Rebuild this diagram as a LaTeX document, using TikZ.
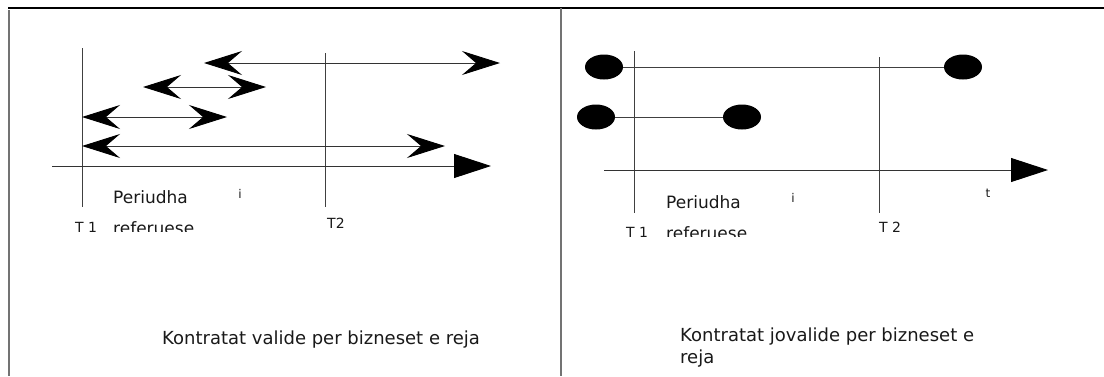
\documentclass[tikz,border=0pt]{standalone}
\usepackage{fontspec}
\setmainfont{DejaVu Sans}
\usetikzlibrary{arrows.meta,shapes.geometric}

\begin{document}
\begin{tikzpicture}[x=1pt,y=-1pt]
        \tikzset{frame/.style={draw=black!55, line width=1.2pt},
                 tline/.style={draw=black!75, line width=0.9pt},
                 axis/.style={draw=black!80, line width=0.9pt,
                    -{Triangle[length=37pt,width=24pt,color=black]}},
                 span/.style={draw=black!80, line width=0.9pt,
                    {Stealth[length=38pt,width=24pt,inset=14pt,color=black]}-{Stealth[length=38pt,width=24pt,inset=14pt,color=black]}},
                 dot/.style={ellipse, fill=black, inner sep=0pt,
                    minimum width=38pt, minimum height=25pt},
                 lbl/.style={anchor=base west, inner sep=0pt,
                    font=\fontsize{17}{20}\selectfont, text=black!90},
                 tick/.style={anchor=base west, inner sep=0pt,
                    font=\fontsize{14}{16}\selectfont, text=black!90},
                 small/.style={anchor=base, inner sep=0pt,
                    font=\fontsize{12}{13}\selectfont, text=black!90},
                 caption/.style={anchor=base west, inner sep=0pt,
                    font=\fontsize{18}{22}\selectfont, text=black!90}}
        \useasboundingbox (0,0) rectangle (1104,376);
        % frame
        \draw[black, line width=2.2pt] (8,8) -- (1104,8);
        \draw[frame] (9,10) -- (9,376);
        \draw[frame] (561,8) -- (561,376);

        % left panel: valid contracts
        \coordinate (aL1) at (52,166);  \coordinate (aL2) at (491,166);
        \coordinate (t1Lt) at (82,48);  \coordinate (t1Lb) at (82,207);
        \coordinate (t2Lt) at (325,53); \coordinate (t2Lb) at (325,207);
        \draw[tline] (t1Lt) -- (t1Lb);
        \draw[tline] (t2Lt) -- (t2Lb);
        \draw[axis] (aL1) -- (aL2);
        \foreach \y/\a/\b [count=\k] in {63/204/500, 87/143/266, 117/82/227, 146/82/445}
        {
            \coordinate (s\k a) at (\a,\y);
            \coordinate (s\k b) at (\b,\y);
            \draw[span] (s\k a) -- (s\k b);
        }
        \begin{scope}
            \clip (10,0) rectangle (560,231);
            \node[lbl] (perL) at (113,203) {Periudha};
            \node[lbl] (refL) at (113,234) {referuese};
            \node[tick] (T1L) at (75,232) {T 1};
            \node[tick] (T2L) at (327,228) {T2};
        \end{scope}
        \node[small] (iL) at (240,198) {i};
        \node[caption] (capL) at (162,344) {Kontratat valide per bizneset e reja};

        % right panel: invalid contracts
        \coordinate (aR1) at (604,170); \coordinate (aR2) at (1048,170);
        \coordinate (t1Rt) at (634,51); \coordinate (t1Rb) at (634,213);
        \coordinate (t2Rt) at (879,57); \coordinate (t2Rb) at (879,213);
        \draw[tline] (t1Rt) -- (t1Rb);
        \draw[tline] (t2Rt) -- (t2Rb);
        \draw[axis] (aR1) -- (aR2);
        \node[dot] (d1a) at (604,67) {};
        \node[dot] (d1b) at (963,67) {};
        \node[dot] (d2a) at (596,117) {};
        \node[dot] (d2b) at (742,117) {};
        \draw[tline] (d1a) -- (d1b);
        \draw[tline] (d2a) -- (d2b);
        \begin{scope}
            \clip (562,0) rectangle (1104,236);
            \node[lbl] (perR) at (666,208) {Periudha};
            \node[lbl] (refR) at (666,239) {referuese};
            \node[tick] (T1R) at (626,237) {T 1};
            \node[tick] (T2R) at (879,232) {T 2};
        \end{scope}
        \node[small] (iR) at (793,202) {i};
        \node[small] (tR) at (988,197) {t};
        \node[caption] (capR) at (680,341) {Kontratat jovalide per bizneset e};
        \node[caption] (capR2) at (680,363) {reja};
    \end{tikzpicture}
\end{document}
